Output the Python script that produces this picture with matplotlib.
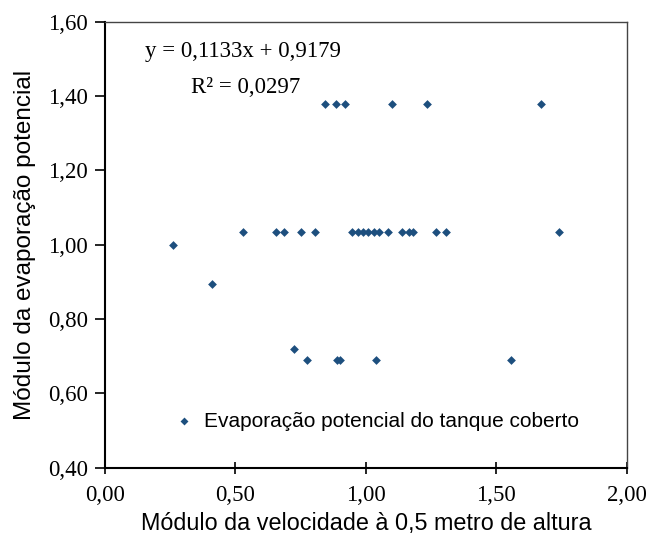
import matplotlib
matplotlib.use("Agg")
import matplotlib.pyplot as plt
import numpy as np

# === Data ===
vel_top = [0.845, 0.885, 0.92, 1.10, 1.235, 1.67]
evap_top = [1.38] * len(vel_top)

vel_mid = [0.53, 0.655, 0.686, 0.752, 0.805, 0.945, 0.97, 0.99, 1.01, 1.03, 1.05, 1.085,
           1.14, 1.165, 1.18, 1.27, 1.305, 1.74]
evap_mid = [1.035] * len(vel_mid)

vel_other = [0.26, 0.41, 0.725, 0.775, 0.89, 0.90, 1.04, 1.555]
evap_other = [1.00, 0.895, 0.72, 0.69, 0.69, 0.69, 0.69, 0.69]

x_ticks = [0.0, 0.5, 1.0, 1.5, 2.0]
y_ticks = [0.4, 0.6, 0.8, 1.0, 1.2, 1.4, 1.6]

equation = "y = 0,1133x + 0,9179"
r2_text = "R² = 0,0297"
series_label = "Evaporação potencial do tanque coberto"
xlabel = "Módulo da velocidade à 0,5 metro de altura"
ylabel = "Módulo da evaporação potencial"

vel = vel_top + vel_mid + vel_other
evap = evap_top + evap_mid + evap_other

# === Plot ===
fig = plt.figure(figsize=(6.47, 5.44), dpi=100)
ax = fig.add_axes([0.162, 0.140, 0.807, 0.820])

ax.scatter(vel, evap, marker="D", s=20, color="#1d4f7e", linewidths=0, zorder=3,
           label=series_label)

ax.set_xlim(0, 2)
ax.set_ylim(0.4, 1.6)
ax.set_xticks(x_ticks)
ax.set_yticks(y_ticks)
ax.set_xticklabels([f"{v:.2f}".replace(".", ",") for v in x_ticks],
                   family="Liberation Serif", fontsize=16.5)
ax.set_yticklabels([f"{v:.2f}".replace(".", ",") for v in y_ticks],
                   family="Liberation Serif", fontsize=16.5)
ax.tick_params(axis="x", direction="inout", length=8, width=1.2, pad=8)
ax.tick_params(axis="y", direction="out", length=7, width=1.2, pad=5)

for side in ["left", "bottom"]:
    ax.spines[side].set_linewidth(1.5)
for side in ["top", "right"]:
    ax.spines[side].set_linewidth(1.0)
    ax.spines[side].set_color("#444444")

ax.set_xlabel(xlabel, family="Liberation Sans", fontsize=16.8, labelpad=5)
ax.set_ylabel(ylabel, family="Liberation Sans", fontsize=17.5, labelpad=9)

ax.text(0.153, 1.519, equation, family="Liberation Serif", fontsize=16.5, va="center")
ax.text(0.33, 1.423, r2_text, family="Liberation Serif", fontsize=16.5, va="center")

leg = ax.legend(loc="lower left", bbox_to_anchor=(0.095, 0.065), frameon=False,
                prop={"family": "Liberation Sans", "size": 15}, handletextpad=0.0,
                markerscale=0.9, borderaxespad=0)

fig.savefig("out.png", dpi=100)
